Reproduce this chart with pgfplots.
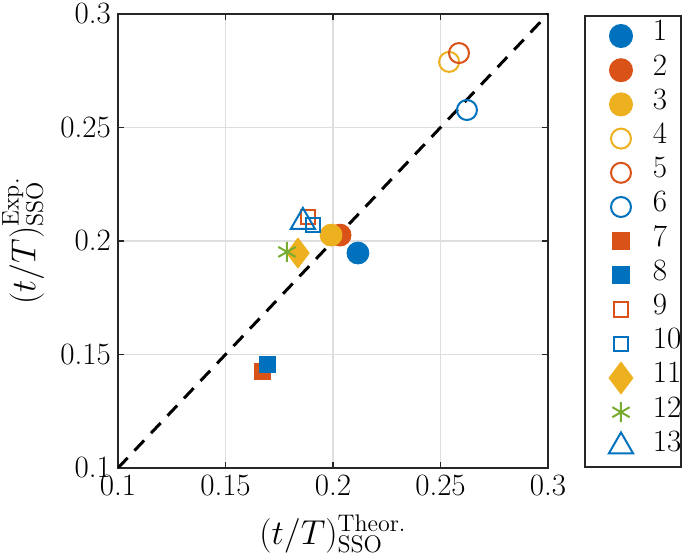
\documentclass[border=0pt]{standalone}
\usepackage{pgfplots}
\pgfplotsset{compat=1.18}
\definecolor{mblue}{rgb}{0,0.447,0.741}
\definecolor{morange}{rgb}{0.85,0.325,0.098}
\definecolor{myellow}{rgb}{0.929,0.694,0.125}
\definecolor{mgreen}{rgb}{0.466,0.674,0.188}
\definecolor{mdark}{rgb}{0.15,0.15,0.15}
\newcommand{\fs}{\fontsize{15.5}{18}\selectfont}
\newcommand{\fl}{\fontsize{17}{20}\selectfont}
\begin{document}
\begin{tikzpicture}
\path[use as bounding box] (-59pt,-44pt) rectangle (283.5pt,234pt);
\begin{axis}[
  at={(0,0)}, anchor=south west,
  scale only axis, width=215pt, height=227pt,
  xmin=0.1, xmax=0.3, ymin=0.1, ymax=0.3,
  xtick={0.1,0.15,0.2,0.25,0.3}, xticklabels={0.1,0.15,0.2,0.25,0.3},
  ytick={0.1,0.15,0.2,0.25,0.3}, yticklabels={0.1,0.15,0.2,0.25,0.3},
  grid=major, major grid style={black!13, line width=0.75pt},
  axis line style={mdark, line width=0.75pt},
  tick style={mdark, line width=0.75pt}, major tick length=3pt,
  tick align=inside,
  ticklabel style={font=\fs},
  label style={font=\fl},
  xlabel={$(t/T)^{\mathrm{Theor.}}_{\mathrm{SSO}}$},
  ylabel={$(t/T)^{\mathrm{Exp.}}_{\mathrm{SSO}}$},
  xlabel style={at={(axis description cs:0.5,-0.188)}, anchor=south, inner sep=0pt},
  ylabel style={at={(axis description cs:-0.27,0.5)}, anchor=north, inner sep=0pt},
  legend style={at={(1.0837,0.998)}, anchor=north west, draw=mdark, line width=1pt,
    inner xsep=0pt, inner ysep=1.5pt, row sep=0pt, column sep=7pt,
    nodes={inner sep=0pt, font=\fs, text height=11pt, text depth=6.1pt}},
  legend cell align=left,
  legend image code/.code={%
    \pgfpathrectangle{\pgfpoint{0pt}{-4pt}}{\pgfpoint{27pt}{8pt}}\pgfusepath{use as bounding box}%
    \draw plot coordinates {(18pt,0pt)};},
  every axis plot/.append style={only marks},
]
\addplot[no marks, sharp plot, black, line width=1.5pt, dash pattern=on 7pt off 5pt, forget plot] coordinates {(0.1,0.1) (0.3,0.3)};
\addplot[mark=*, mark size=5.5pt, draw=mblue, fill=mblue] coordinates {(0.2116,0.1947)};
\addlegendentry{1}
\addplot[mark=*, mark size=5.5pt, draw=morange, fill=morange] coordinates {(0.2033,0.2026)};
\addlegendentry{2}
\addplot[mark=*, mark size=5.5pt, draw=myellow, fill=myellow] coordinates {(0.1991,0.2026)};
\addlegendentry{3}
\addplot[mark=o, mark size=5pt, draw=myellow, line width=1pt] coordinates {(0.2540,0.2789)};
\addlegendentry{4}
\addplot[mark=o, mark size=5pt, draw=morange, line width=1pt] coordinates {(0.2586,0.2828)};
\addlegendentry{5}
\addplot[mark=o, mark size=5pt, draw=mblue, line width=1pt] coordinates {(0.2623,0.2577)};
\addlegendentry{6}
\addplot[mark=square*, mark size=4pt, draw=morange, fill=morange] coordinates {(0.1670,0.1427)};
\addlegendentry{7}
\addplot[mark=square*, mark size=4pt, draw=mblue, fill=mblue] coordinates {(0.1693,0.1458)};
\addlegendentry{8}
\addplot[mark=square, mark size=3.6pt, draw=morange, line width=1pt] coordinates {(0.1884,0.2106)};
\addlegendentry{9}
\addplot[mark=square, mark size=3.6pt, draw=mblue, line width=1pt] coordinates {(0.1907,0.2070)};
\addlegendentry{10}
\addplot[mark=diamond*, mark size=7.5pt, draw=myellow, fill=myellow] coordinates {(0.1837,0.1947)};
\addlegendentry{11}
\addplot[mark=asterisk, mark size=5pt, draw=mgreen, line width=1pt] coordinates {(0.1786,0.1952)};
\addlegendentry{12}
\addplot[mark=triangle, mark size=7pt, draw=mblue, line width=1pt] coordinates {(0.1860,0.2084)};
\addlegendentry{13}
\end{axis}
\end{tikzpicture}
\end{document}
